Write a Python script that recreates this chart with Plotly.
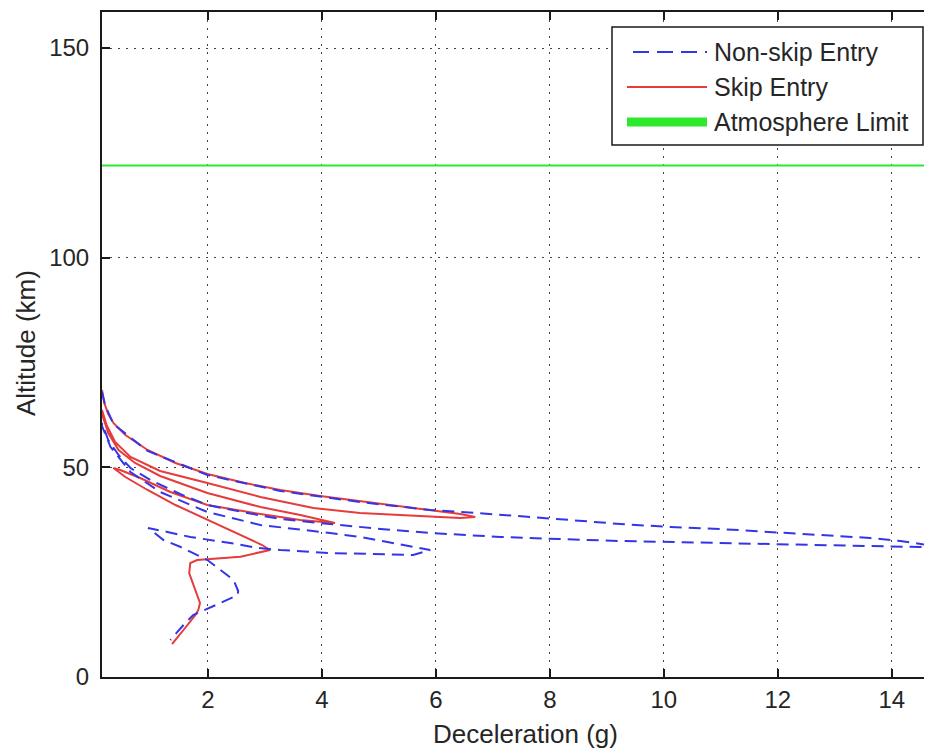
import plotly.graph_objects as go

# ---------------- data (deceleration in g, altitude in km) ----------------
skip_decel = [0.14, 0.18, 0.25, 0.34, 0.55, 0.94, 1.43, 1.99, 2.65, 3.27, 3.97, 4.67, 5.37, 5.95, 6.43, 6.69,
              6.43, 5.72, 4.67, 3.85, 2.92, 1.99, 1.16, 0.64, 0.37, 0.22, 0.14,
              0.14, 0.25, 0.43, 0.72, 1.16, 1.99, 2.92, 3.62, 4.23,
              3.62, 2.92, 1.99, 1.34, 0.81, 0.46, 0.34,
              0.55, 0.94, 1.43, 1.99, 2.57, 2.95, 3.09,
              2.57, 1.81, 1.69, 1.67, 1.78, 1.86, 1.83, 1.78, 1.57, 1.37]
skip_alt = [68.45, 65.35, 62.72, 60.58, 57.71, 54.14, 51.04, 48.41, 46.27, 44.60, 43.17, 41.97, 40.78, 39.83, 38.87, 38.16,
            37.92, 38.40, 39.11, 40.30, 42.93, 46.27, 49.13, 52.47, 56.05, 60.10, 63.68,
            62.72, 58.19, 54.14, 51.04, 47.94, 43.88, 40.54, 38.64, 36.73,
            37.44, 38.87, 41.02, 44.12, 47.46, 49.37, 49.84,
            47.70, 44.60, 41.02, 37.44, 33.87, 31.48, 30.29,
            28.69, 27.90, 27.19, 24.80, 20.75, 17.65, 15.98, 14.79, 11.21, 7.87]

nonskip_decel = [0.14, 0.20, 0.34, 0.94, 1.99, 3.27, 4.67, 5.90, 6.72, 7.48, 8.36, 9.24, 10.11, 10.99, 11.87, 12.74, 13.62, 14.15, 14.64,
                 14.50, 13.62, 12.74, 11.87, 10.99, 10.11, 9.24, 8.18, 7.13, 5.90, 5.03, 4.14, 3.27, 2.69, 1.99, 1.51, 0.99, 0.64, 0.43, 0.25, 0.14,
                 0.14, 0.29, 0.64, 1.16, 1.99, 2.92, 4.14, 4.67, 5.15, 5.60, 5.90,
                 5.60, 4.90, 4.14, 3.27, 2.87, 2.39, 1.92, 1.69, 1.29, 0.95,
                 1.22, 1.52, 1.99, 2.22, 2.45, 2.53, 2.52, 2.22, 1.92, 1.74, 1.57, 1.39, 1.34]
nonskip_alt = [67.97, 64.63, 60.34, 53.90, 48.17, 44.36, 41.73, 39.83, 39.11, 38.40, 37.44, 36.49, 35.77, 35.30, 34.58, 33.87, 33.15, 32.43, 31.48,
               31.00, 31.24, 31.48, 31.72, 31.96, 32.20, 32.43, 32.91, 33.39, 34.34, 35.30, 36.49, 37.68, 39.11, 41.02, 43.64, 46.98, 49.84, 52.95, 56.52, 60.58,
               59.86, 54.85, 48.89, 44.12, 39.35, 36.25, 34.34, 33.39, 32.20, 31.00, 30.29,
               29.10, 29.33, 29.57, 30.29, 30.77, 31.96, 32.91, 33.39, 34.58, 35.54,
               32.67, 31.00, 27.90, 25.52, 23.13, 20.51, 19.56, 17.65, 15.98, 14.79, 12.40, 9.54, 8.82]

atmosphere_limit_km = 122
x_tick_vals = [2, 4, 6, 8, 10, 12, 14]
y_tick_vals = [0, 50, 100, 150]
legend_labels = ["Non-skip Entry", "Skip Entry", "Atmosphere Limit"]
x_title = "Deceleration (g)"
y_title = "Altitude (km)"

# ---------------- style / layout ----------------
OFF = 8                      # default page body margin
W, H = 932 - OFF, 749 - OFF
ML, MR, MT, MB = 102 - OFF, 0, 12 - OFF, H - (677 - OFF)
X_RANGE = [0.14, 14.707]
Y_RANGE = [0, 158.6]
BLUE = "#3535e8"
RED = "#e63c3c"
GREEN = "#2ee82e"
FONT = "Liberation Sans, Arial, sans-serif"
TXT = "#262626"
PW, PH = W - ML - MR, H - MT - MB


def px2paper(px, py):
    """reference-picture pixel -> paper coordinates"""
    return (px - OFF - ML) / PW, (H - MB - (py - OFF)) / PH


fig = go.Figure()
fig.add_trace(go.Scatter(x=skip_decel, y=skip_alt, mode="lines",
                         line=dict(color=RED, width=2), showlegend=False, hoverinfo="skip"))
fig.add_trace(go.Scatter(x=nonskip_decel, y=nonskip_alt, mode="lines",
                         line=dict(color=BLUE, width=2, dash="12px,7px"), showlegend=False, hoverinfo="skip"))

axis_common = dict(
    showline=True, linecolor="#1a1a1a", linewidth=2,
    ticks="inside", ticklen=8, tickwidth=1.5, tickcolor="#1a1a1a",
    showgrid=True, gridcolor="#444444", gridwidth=1, griddash="2px,6px",
    zeroline=False, tickfont=dict(family=FONT, size=24, color=TXT),
)
fig.update_xaxes(range=X_RANGE, tickvals=x_tick_vals, ticktext=[str(v) for v in x_tick_vals],
                 mirror="ticks", **axis_common)
fig.update_yaxes(range=Y_RANGE, tickvals=y_tick_vals, ticktext=[str(v) for v in y_tick_vals],
                 mirror=False, ticklabelstandoff=6, **axis_common)

shapes = []
annotations = []
# atmosphere limit line (data y, full width)
shapes.append(dict(type="line", xref="paper", yref="y", x0=0, x1=1,
                   y0=atmosphere_limit_km, y1=atmosphere_limit_km,
                   line=dict(color=GREEN, width=2), layer="above"))
# legend box
bx0, by0 = px2paper(612, 145)
bx1, by1 = px2paper(923, 27)
shapes.append(dict(type="rect", xref="paper", yref="paper", x0=bx0, y0=by0, x1=bx1, y1=by1,
                   fillcolor="white", line=dict(color="#1a1a1a", width=1.5), layer="above"))
legend_rows = [
    (legend_labels[0], 52, dict(color=BLUE, width=2, dash="16px,8px"), 633),
    (legend_labels[1], 87, dict(color=RED, width=2), 627),
    (legend_labels[2], 122, dict(color=GREEN, width=9), 627),
]
for label, py, ln, lx0 in legend_rows:
    x0, y0 = px2paper(lx0, py)
    x1, _ = px2paper(707, py)
    shapes.append(dict(type="line", xref="paper", yref="paper", x0=x0, x1=x1, y0=y0, y1=y0,
                       line=ln, layer="above"))
    tx, ty = px2paper(712, py)
    annotations.append(dict(text=label, xref="paper", yref="paper", x=tx, y=ty, xanchor="left",
                            yanchor="middle", showarrow=False,
                            font=dict(family=FONT, size=25, color=TXT)))

# axis titles
tx, ty = px2paper(525, 734)
annotations.append(dict(text=x_title, xref="paper", yref="paper", x=tx, y=ty, xanchor="center",
                        yanchor="middle", showarrow=False, font=dict(family=FONT, size=26, color=TXT)))
tx, ty = px2paper(26, 343)
annotations.append(dict(text=y_title, xref="paper", yref="paper", x=tx, y=ty, xanchor="center",
                        yanchor="middle", textangle=-90, showarrow=False,
                        font=dict(family=FONT, size=26, color=TXT)))

fig.update_layout(
    width=W, height=H,
    margin=dict(l=ML, r=MR, t=MT, b=MB),
    paper_bgcolor="white", plot_bgcolor="white",
    showlegend=False,
    shapes=shapes, annotations=annotations,
)

fig.write_html("out.html")
